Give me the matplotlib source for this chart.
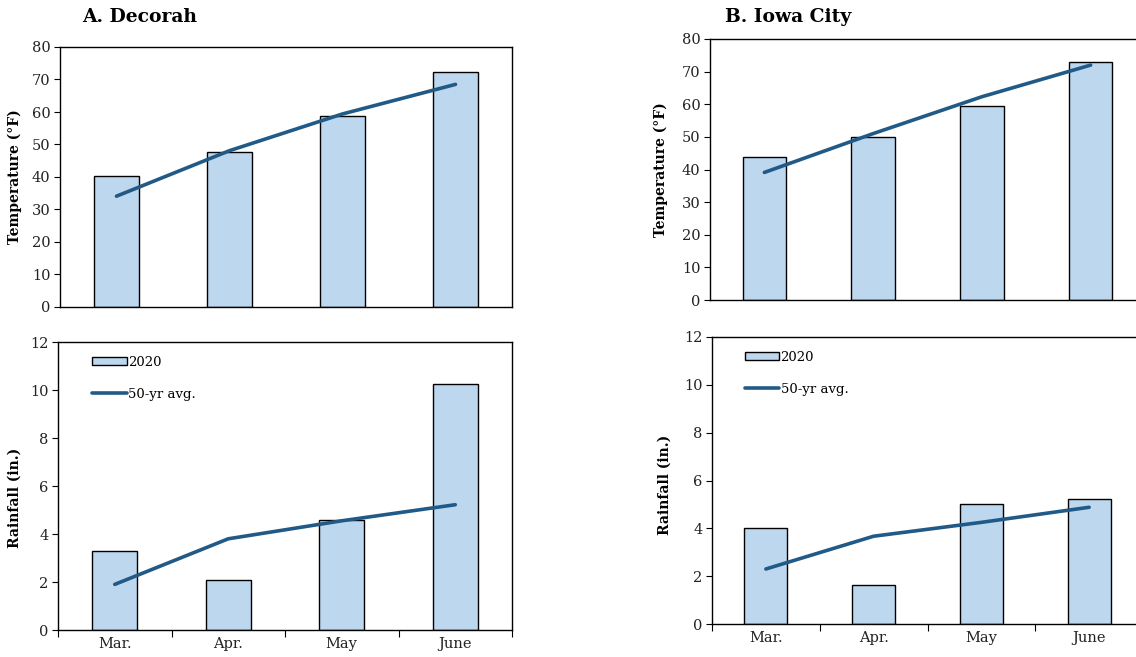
import matplotlib
matplotlib.use("Agg")
import matplotlib.pyplot as plt
from matplotlib.patches import Patch
from matplotlib.lines import Line2D

months = ["Mar.", "Apr.", "May", "June"]
yticks_temp = [0, 10, 20, 30, 40, 50, 60, 70, 80]
yticks_rain = [0, 2, 4, 6, 8, 10, 12]

decorah_temp_2020 = [40.4, 47.6, 58.7, 72.2]
decorah_temp_avg = [34.1, 48.1, 59.4, 68.5]
decorah_rain_2020 = [3.3, 2.1, 4.6, 10.25]
decorah_rain_avg = [1.9, 3.8, 4.55, 5.22]

iowa_temp_2020 = [43.8, 50.1, 59.4, 72.8]
iowa_temp_avg = [39.1, 51.0, 62.3, 72.0]
iowa_rain_2020 = [4.0, 1.65, 5.0, 5.22]
iowa_rain_avg = [2.3, 3.67, 4.25, 4.88]

W, H = 1136, 657
BAR = "#BDD7EE"
LINE = "#215A87"
FONT = "DejaVu Serif"

fig = plt.figure(figsize=(W / 100, H / 100), dpi=100)


def add_ax(x0, y0, x1, y1):
    return fig.add_axes([x0 / W, 1 - y1 / H, (x1 - x0) / W, (y1 - y0) / H])


def draw(ax, bars, line, yticks, show_x, legend=False):
    x = list(range(len(months)))
    ax.bar(x, bars, width=0.4, color=BAR, edgecolor="black", linewidth=1.0,
           label="2020", zorder=2)
    ax.plot(x, line, color=LINE, linewidth=2.6, solid_capstyle="round",
            label="50-yr avg.", zorder=3)
    ax.set_xlim(-0.5, len(months) - 0.5)
    ax.set_ylim(yticks[0], yticks[-1])
    ax.set_yticks(yticks)
    ax.set_yticklabels([str(t) for t in yticks], fontfamily=FONT, fontsize=10.5,
                       color="#222222")
    ax.tick_params(axis="y", direction="out", length=4, width=0.8, pad=3)
    for s in ax.spines.values():
        s.set_linewidth(1.0)
    if show_x:
        ax.set_xticks([i - 0.5 for i in range(len(months) + 1)])
        ax.set_xticklabels([])
        ax.set_xticks(x, minor=True)
        ax.set_xticklabels(months, minor=True, fontfamily=FONT, fontsize=10.5,
                           color="#222222")
        ax.tick_params(axis="x", which="major", direction="out", length=5, width=0.8)
        ax.tick_params(axis="x", which="minor", length=0, pad=5)
    else:
        ax.set_xticks([])
    if legend:
        handles = [Patch(facecolor=BAR, edgecolor="black", linewidth=1.0),
                   Line2D([0], [0], color=LINE, linewidth=2.6, solid_capstyle="round")]
        ax.legend(handles, ["2020", "50-yr avg."], loc="upper left",
                  bbox_to_anchor=(0.055, 0.985), frameon=False,
                  prop={"family": FONT, "size": 9.5}, handlelength=2.6,
                  handleheight=0.6, handletextpad=0.1, labelspacing=1.45,
                  borderpad=0.2)


# Decorah
axA1 = add_ax(60, 47, 512, 307)
draw(axA1, decorah_temp_2020, decorah_temp_avg, yticks_temp, False)
axA2 = add_ax(58, 342, 512, 630)
draw(axA2, decorah_rain_2020, decorah_rain_avg, yticks_rain, True, legend=True)

# Iowa City
axB1 = add_ax(710, 39, 1145, 300)
draw(axB1, iowa_temp_2020, iowa_temp_avg, yticks_temp, False)
axB2 = add_ax(712, 337, 1143, 624)
draw(axB2, iowa_rain_2020, iowa_rain_avg, yticks_rain, True, legend=True)

# Titles
fig.text(82 / W, 1 - 17 / H, "A. Decorah", fontfamily=FONT, fontweight="bold",
         fontsize=13.5, ha="left", va="center")
fig.text(725 / W, 1 - 17 / H, "B. Iowa City", fontfamily=FONT, fontweight="bold",
         fontsize=13.5, ha="left", va="center")

# Y labels
lab = dict(fontfamily=FONT, fontweight="bold", fontsize=10, rotation=90,
           ha="center", va="center")
fig.text(15 / W, 1 - 177 / H, "Temperature (°F)", **lab)
fig.text(15 / W, 1 - 498 / H, "Rainfall (in.)", **lab)
fig.text(661 / W, 1 - 170 / H, "Temperature (°F)", **lab)
fig.text(665 / W, 1 - 485 / H, "Rainfall (in.)", **lab)

fig.savefig("out.png", dpi=100)
